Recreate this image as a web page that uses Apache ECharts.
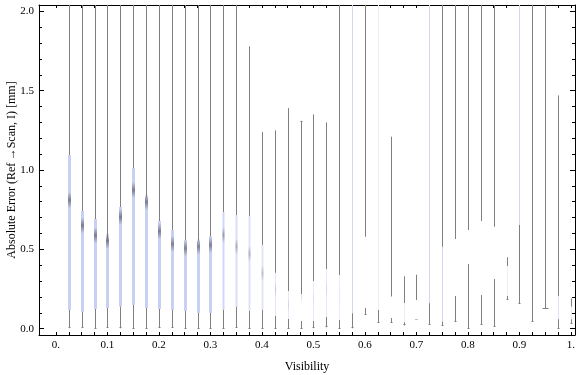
<!DOCTYPE html>
<html>
<head>
<meta charset="utf-8">
<script src="https://cdn.jsdelivr.net/npm/echarts@6/dist/echarts.min.js"></script>
<style>
  html, body { margin: 0; padding: 0; background: #fff; }
  #chart { width: 576px; height: 375px; }
</style>
</head>
<body>
<div id="chart"></div>
<script>
// visibility bins (x positions)
var visibility = [0.025, 0.05, 0.075, 0.1, 0.125, 0.15, 0.175, 0.2, 0.225, 0.25,
    0.275, 0.3, 0.325, 0.35, 0.375, 0.4, 0.425, 0.45, 0.475, 0.5,
    0.525, 0.55, 0.575, 0.6, 0.625, 0.65, 0.675, 0.7, 0.725, 0.75,
    0.775, 0.8, 0.825, 0.85, 0.875, 0.9, 0.925, 0.95, 0.975, 1.0];
// box-whisker statistics (values above 2.04 run off the top of the frame)
var whiskerLow = [0.003, 0.005, 0.0, 0.004, 0.003, 0.0, 0.0, 0.004, 0.005, 0.0,
    0.0, 0.0, 0.0, 0.005, 0.0, 0.0, 0.0, 0.0, 0.0, 0.004,
    0.009, 0.0, 0.003, 0.087, 0.036, 0.036, 0.02, 0.055, 0.023, 0.017,
    0.042, 0.0, 0.023, 0.013, 0.181, 0.156, 0.042, 0.124, 0.0, 0.03];
var boxLow = [0.118, 0.105, 0.124, 0.130, 0.139, 0.149, 0.130, 0.124, 0.118, 0.112,
    0.099, 0.099, 0.118, 0.137, 0.112, 0.118, 0.080, 0.061, 0.049, 0.049,
    0.074, 0.055, 0.097, 0.130, 0.117, 0.067, 0.04, 0.058, 0.160, 0.044,
    0.206, 0.408, 0.212, 0.313, 0.206, 0.653, 2.05, 2.05, 0.06, 0.06];
var median = [0.81, 0.651, 0.588, 0.554, 0.704, 0.874, 0.798, 0.614, 0.534, 0.507,
    0.517, 0.527, 0.590, 0.517, 0.471, 0.349, 0.244, 0.15, 0.205, 0.19,
    0.25, 0.2, 0.45, 0.3, 0.3, 0.12, 0.1, 0.12, 0.5, 0.25,
    0.35, 0.5, 0.4, 0.45, 0.3, 1.0, 2.08, 2.08, 0.12, 0.1];
var boxHigh = [1.094, 0.742, 0.691, 0.565, 0.767, 1.013, 0.830, 0.679, 0.622, 0.559,
    0.553, 0.582, 0.735, 0.716, 0.710, 0.527, 0.353, 0.238, 0.219, 0.30,
    0.376, 0.338, 2.1, 0.58, 2.1, 0.202, 0.162, 0.181, 2.1, 0.517,
    0.565, 0.622, 0.679, 0.643, 0.395, 2.1, 2.1, 2.1, 0.206, 0.14];
var whiskerHigh = [2.1, 2.1, 2.1, 2.1, 2.1, 2.1, 2.1, 2.1, 2.1, 2.1,
    2.1, 2.1, 2.1, 2.1, 1.78, 1.24, 1.25, 1.39, 1.31, 1.35,
    1.30, 2.1, 2.1, 2.1, 2.1, 1.21, 0.33, 0.34, 2.1, 2.1,
    2.1, 2.1, 2.1, 2.1, 0.45, 2.1, 2.1, 2.1, 1.47, 0.19];

// tick values and labels
var xTicks = [0, 0.025, 0.05, 0.075, 0.1, 0.125, 0.15, 0.175, 0.2, 0.225, 0.25,
    0.275, 0.3, 0.325, 0.35, 0.375, 0.4, 0.425, 0.45, 0.475, 0.5,
    0.525, 0.55, 0.575, 0.6, 0.625, 0.65, 0.675, 0.7, 0.725, 0.75,
    0.775, 0.8, 0.825, 0.85, 0.875, 0.9, 0.925, 0.95, 0.975, 1.0];
var xLabels = [0, 0.1, 0.2, 0.3, 0.4, 0.5, 0.6, 0.7, 0.8, 0.9, 1.0];
var yMajor = [0, 0.5, 1.0, 1.5, 2.0];
var yMinor = [0.1, 0.2, 0.3, 0.4, 0.6, 0.7, 0.8, 0.9, 1.1, 1.2, 1.3, 1.4,
    1.6, 1.7, 1.8, 1.9];

// box tint per bin (styling only)
var boxFill = ['#c8d0f4', '#c8d0f4', '#c8d0f4', '#c8d0f4', '#c8d0f4', '#c8d0f4', '#c8d0f4', '#c8d0f4',
    '#c8d0f4', '#c8d0f4', '#c8d0f4', '#c8d0f4', '#d0d7f6', '#d8def7', '#dde2f8', '#e0e5f9',
    '#e3e7fa', '#e6e9fa', '#ffffff', '#e8ebfb', '#e4e8fa', '#eaedfb', '#d0d7f6', '#ffffff',
    '#eeeeee', '#ffffff', '#eeeeee', '#ffffff', '#d0d7f6', '#d0d7f6', '#ffffff', '#ffffff',
    '#ffffff', '#ffffff', '#eeeeee', '#d0d7f6', '#ffffff', '#ffffff', '#dde2f8', '#eeeeee'];
var medAlpha = [0.75, 0.75, 0.75, 0.75, 0.75, 0.75, 0.75, 0.75, 0.7, 0.7, 0.7, 0.7,
    0.55, 0.45, 0.4, 0.3, 0.25, 0.15, 0.2, 0.1, 0.15, 0.05];

var FONT = 'Liberation Serif';
var chart = echarts.init(document.getElementById('chart'));

var seriesData = visibility.map(function (v, i) {
    return [v, whiskerLow[i], boxLow[i], median[i], boxHigh[i], whiskerHigh[i]];
});

function renderBox(params, api) {
    var i = params.dataIndex;
    var cs = params.coordSys;
    var top = cs.y, bottom = cs.y + cs.height;
    function py(v) {
        var y = api.coord([api.value(0), v])[1];
        return Math.max(top, Math.min(bottom, y));
    }
    var cx = Math.round(api.coord([api.value(0), 0])[0]) + 0.5;
    var yWl = py(api.value(1)), yQ1 = py(api.value(2)), yMed = py(api.value(3));
    var yQ3 = py(api.value(4)), yWh = py(api.value(5));
    var w = i < 12 ? 3 : (i < 16 ? 2 : 1);
    var gray = '#7f7f7f';
    var children = [];
    children.push({
        type: 'line',
        shape: { x1: cx, y1: yWl, x2: cx, y2: yWh },
        style: { stroke: gray, lineWidth: 1 }
    });
    // small foot at the low whisker end; only one bin shows a top cap
    var capW = i === 37 ? 3 : 1;
    if (yWl < bottom) {
        children.push({
            type: 'line',
            shape: { x1: cx - capW, y1: Math.round(yWl) - 0.5, x2: cx + capW, y2: Math.round(yWl) - 0.5 },
            style: { stroke: gray, lineWidth: 1 }
        });
    }
    if (i === 18 && yWh > top) {
        children.push({
            type: 'line',
            shape: { x1: cx - 1, y1: Math.round(yWh) + 0.5, x2: cx + 1, y2: Math.round(yWh) + 0.5 },
            style: { stroke: gray, lineWidth: 1 }
        });
    }
    if (yQ1 - yQ3 > 0) {
        children.push({
            type: 'rect',
            shape: { x: cx - w / 2, y: yQ3, width: w, height: yQ1 - yQ3 },
            style: { fill: boxFill[i] }
        });
    }
    var a = medAlpha[i] || 0;
    if (a > 0 && yMed > top && yMed < bottom) {
        children.push({
            type: 'rect',
            shape: { x: cx - w / 2, y: yMed - 8, width: w, height: 16 },
            style: {
                fill: new echarts.graphic.LinearGradient(0, 0, 0, 1, [
                    { offset: 0, color: 'rgba(95,95,110,0)' },
                    { offset: 0.5, color: 'rgba(95,95,110,' + a + ')' },
                    { offset: 1, color: 'rgba(95,95,110,0)' }
                ])
            }
        });
    }
    return { type: 'group', children: children };
}

var axisLineStyle = { show: true, onZero: false, lineStyle: { color: '#000', width: 1 } };
var gridBox = { left: 39, right: 1, top: 5, bottom: 40, containLabel: false, outerBoundsMode: 'none' };

function minorY(pos) {
    // minor ticks on the frame sides
    return {
        type: 'value', position: pos, min: -0.04, max: 2.04,
        axisLine: { show: false, onZero: false },
        axisTick: { show: true, inside: true, length: 3, customValues: yMinor, lineStyle: { color: '#000' } },
        axisLabel: { show: false },
        splitLine: { show: false }
    };
}

var option = {
    animation: false,
    backgroundColor: '#fff',
    grid: gridBox,
    xAxis: [{
        type: 'value', position: 'bottom', min: -0.033, max: 1.008,
        axisLine: axisLineStyle,
        axisTick: { show: true, inside: true, length: 3, customValues: xTicks, lineStyle: { color: '#000' } },
        axisLabel: {
            show: true, customValues: xLabels, margin: 5, color: '#000', fontFamily: FONT, fontSize: 11,
            formatter: function (v) { return (v === 0 || v === 1) ? v.toFixed(0) + '.' : v.toFixed(1); }
        },
        splitLine: { show: false },
        name: 'Visibility', nameLocation: 'middle', nameGap: 26,
        nameTextStyle: { color: '#000', fontFamily: FONT, fontSize: 12 }
    }, {
        type: 'value', position: 'top', min: -0.033, max: 1.008,
        axisLine: axisLineStyle,
        axisTick: { show: true, inside: true, length: 3, customValues: xTicks, lineStyle: { color: '#000' } },
        axisLabel: { show: false },
        splitLine: { show: false }
    }],
    yAxis: [{
        type: 'value', position: 'left', min: -0.04, max: 2.04,
        axisLine: axisLineStyle,
        axisTick: { show: true, inside: true, length: 5, customValues: yMajor, lineStyle: { color: '#000' } },
        axisLabel: {
            show: true, customValues: yMajor, margin: 5, color: '#000', fontFamily: FONT, fontSize: 11,
            formatter: function (v) { return v.toFixed(1); }
        },
        splitLine: { show: false },
        name: 'Absolute Error (Ref\u2009\u2192Scan, I) [mm]', nameLocation: 'middle', nameGap: 21,
        nameMoveOverlap: false,
        nameTextStyle: { color: '#000', fontFamily: FONT, fontSize: 12 }
    }, {
        type: 'value', position: 'right', min: -0.04, max: 2.04,
        axisLine: axisLineStyle,
        axisTick: { show: true, inside: true, length: 5, customValues: yMajor, lineStyle: { color: '#000' } },
        axisLabel: { show: false },
        splitLine: { show: false }
    }, minorY('left'), minorY('right')],
    series: [{
        type: 'custom',
        xAxisIndex: 0,
        yAxisIndex: 0,
        clip: true,
        renderItem: renderBox,
        encode: { x: 0, y: [1, 2, 3, 4, 5] },
        data: seriesData,
        z: 1
    }]
};

chart.setOption(option);
</script>
</body>
</html>
